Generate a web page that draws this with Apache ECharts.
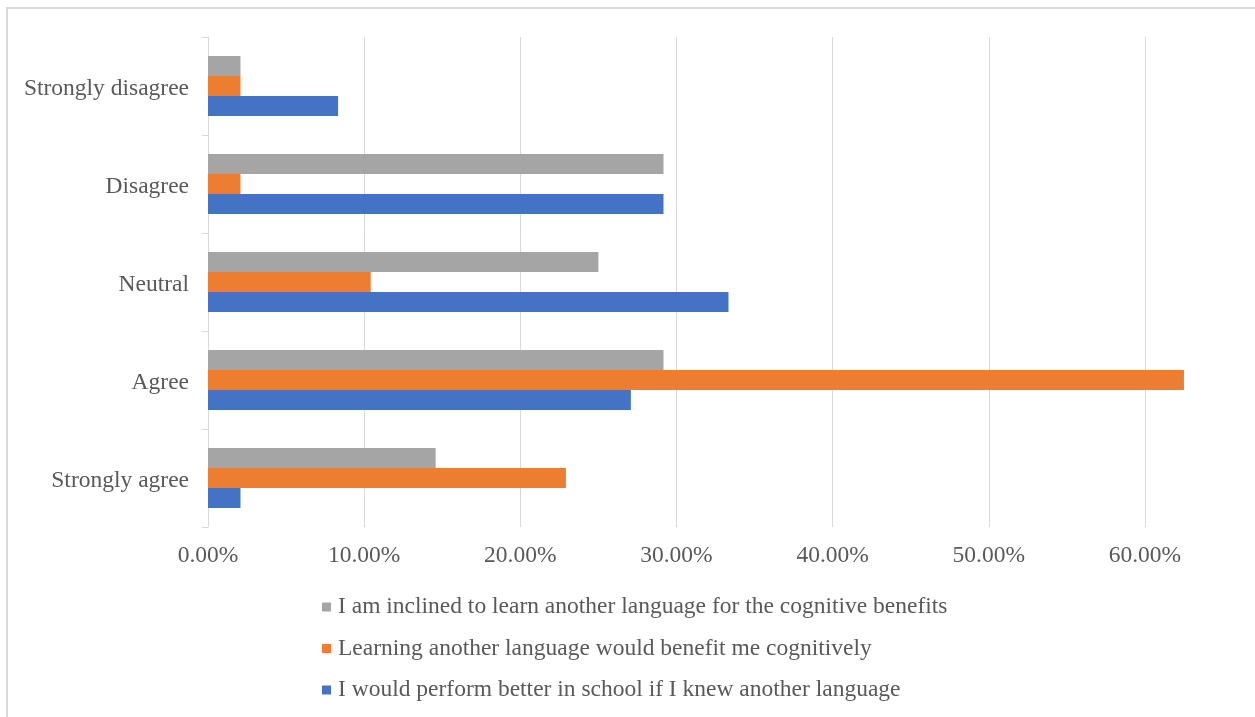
<!DOCTYPE html>
<html>
<head>
<meta charset="utf-8">
<title>Attitudes toward learning another language</title>
<script src="https://cdn.jsdelivr.net/npm/echarts@6/dist/echarts.min.js"></script>
<style>
  html, body { margin: 0; padding: 0; background: #ffffff; }
  #chart { width: 1255px; height: 717px; }
</style>
</head>
<body>
<div id="chart"></div>
<script>
// Response categories, listed bottom to top on the category axis
const categories = ['Strongly agree', 'Agree', 'Neutral', 'Disagree', 'Strongly disagree'];

// Share of respondents (%) per statement
const inclinedCognitive = [14.58, 29.17, 25.00, 29.17, 2.08];
const benefitCognitive = [22.92, 62.50, 10.42, 2.08, 2.08];
const performSchool = [2.08, 27.08, 33.33, 29.17, 8.33];

const seriesNames = [
  'I am inclined to learn another language for the cognitive benefits',
  'Learning another language would benefit me cognitively',
  'I would perform better in school if I knew another language'
];

const valueTicks = { min: 0, max: 65, interval: 10 };

const FONT = '"Liberation Serif", "Times New Roman", serif';
const TEXT = '#595959';
const LINE = '#D9D9D9';

const chart = echarts.init(document.getElementById('chart'), null, { renderer: 'canvas' });

const barCommon = { type: 'bar', barGap: '0%', barCategoryGap: '38.8%' };

chart.setOption({
  backgroundColor: '#ffffff',
  animation: false,
  textStyle: { fontFamily: FONT, color: TEXT },
  graphic: [{
    type: 'rect',
    shape: { x: 7, y: 8, width: 1300, height: 800 },
    style: { fill: 'none', stroke: LINE, lineWidth: 2 },
    silent: true,
    z: -10
  }],
  grid: { left: 208, right: 32, top: 37, bottom: 190, containLabel: false },
  legend: {
    orient: 'vertical',
    left: 317,
    top: 590,
    itemWidth: 9,
    itemHeight: 9,
    itemGap: 17.5,
    icon: 'rect',
    data: seriesNames,
    textStyle: { fontFamily: FONT, fontSize: 23.5, color: TEXT, lineHeight: 24, padding: [0, 0, 0, 2] }
  },
  xAxis: {
    type: 'value',
    min: valueTicks.min,
    max: valueTicks.max,
    interval: valueTicks.interval,
    axisLine: { show: false },
    axisTick: { show: false },
    splitLine: { show: true, showMaxLine: false, lineStyle: { color: LINE, width: 1 } },
    axisLabel: {
      fontFamily: FONT,
      fontSize: 23.5,
      color: TEXT,
      margin: 17,
      showMaxLabel: false,
      formatter: v => v.toFixed(2) + '%'
    }
  },
  yAxis: {
    type: 'category',
    data: categories,
    axisLine: { show: true, lineStyle: { color: LINE, width: 1 } },
    axisTick: { show: true, length: 6, lineStyle: { color: LINE } },
    axisLabel: {
      margin: 19,
      formatter: v => '{c|' + v + '}',
      rich: { c: { fontFamily: FONT, fontSize: 23.5, color: TEXT, padding: [6, 0, 0, 0] } }
    }
  },
  // first series sits at the top of each category group
  series: [
    Object.assign({ name: seriesNames[0], data: inclinedCognitive, itemStyle: { color: '#A5A5A5' } }, barCommon),
    Object.assign({ name: seriesNames[1], data: benefitCognitive, itemStyle: { color: '#ED7D31' } }, barCommon),
    Object.assign({ name: seriesNames[2], data: performSchool, itemStyle: { color: '#4472C4' } }, barCommon)
  ]
});
</script>
</body>
</html>
